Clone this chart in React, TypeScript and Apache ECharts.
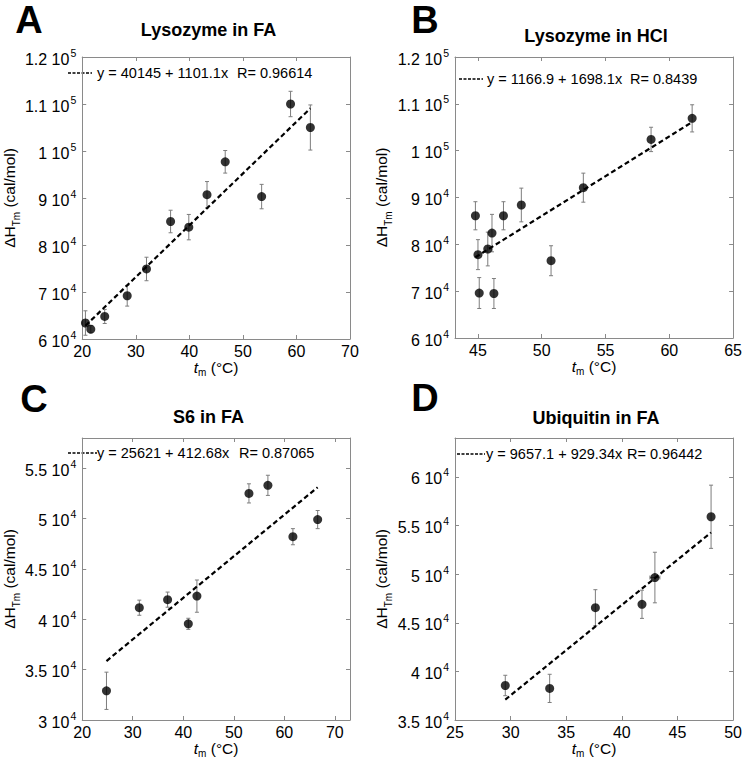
import React, { useEffect, useRef } from "react";
import * as echarts from "echarts";

// ---------- data ----------
// Panel A: Lysozyme in FA
const tmA = [20.6, 21.6, 24.2, 28.4, 32.0, 36.5, 39.9, 43.3, 46.7, 53.5, 58.9, 62.6];
const dhA = [63400, 62100, 64800, 69200, 74900, 85000, 83800, 90700, 97700, 90300, 110000, 105000];
const errA = [2600, 800, 1500, 2200, 2500, 2400, 2700, 2800, 2400, 2600, 2700, 4800];
const fitA = { a: "40145", b: "1101.1", r: "0.96614" };

// Panel B: Lysozyme in HCl
const tmB = [44.8, 45.0, 45.1, 45.77, 46.1, 46.25, 47.0, 48.4, 50.73, 53.26, 58.57, 61.79];
const dhB = [86100, 77800, 69600, 79000, 82400, 69500, 86100, 88400, 76500, 92100, 102400, 106900];
const errB = [3000, 3200, 3300, 3600, 4000, 3200, 3000, 3600, 3200, 3100, 2600, 2900];
const fitB = { a: "1166.9", b: "1698.1", r: "0.8439" };

// Panel C: S6 in FA
const tmC = [24.8, 31.3, 36.9, 41.0, 42.7, 53.0, 56.75, 61.7, 66.6];
const dhC = [32900, 41150, 41950, 39550, 42300, 52500, 53300, 48200, 49900];
const errC = [1850, 750, 750, 550, 1600, 950, 1000, 800, 900];
const fitC = { a: "25621", b: "412.68", r: "0.87065" };

// Panel D: Ubiquitin in FA
const tmD = [29.52, 33.51, 37.62, 41.81, 42.97, 48.02];
const dhD = [38550, 38250, 46550, 46900, 49650, 55900];
const errD = [1050, 1450, 1850, 1450, 2600, 3250];
const xErrD = [0, 0, 0, 0, 0.45, 0];
const fitD = { a: "9657.1", b: "929.34", r: "0.96442" };

// ticks
const xTicksA = [20, 30, 40, 50, 60, 70];
const yTicksA = [60000, 70000, 80000, 90000, 100000, 110000, 120000];
const xTicksB = [45, 50, 55, 60, 65];
const yTicksB = [60000, 70000, 80000, 90000, 100000, 110000, 120000];
const xTicksC = [20, 30, 40, 50, 60, 70];
const yTicksC = [30000, 35000, 40000, 45000, 50000, 55000];
const xTicksD = [25, 30, 35, 40, 45, 50];
const yTicksD = [35000, 40000, 45000, 50000, 55000, 60000];

const titles = ["Lysozyme in FA", "Lysozyme in HCl", "S6 in FA", "Ubiquitin in FA"];
const letters = ["A", "B", "C", "D"];

// ---------- layout ----------
const FONT = '"Liberation Sans", Arial, Helvetica, sans-serif';
const FRAME = "#8a8a8a";

const panels = [
  { tm: tmA, dh: dhA, err: errA, xerr: null as number[] | null, fit: fitA, xTicks: xTicksA, yTicks: yTicksA,
    xMin: 20, xMax: 70, yMin: 60000, yMax: 120000,
    grid: { left: 67, top: 57, width: 283, height: 282 }, yGap: 51, xGap: 20,
    eqY: 73, dash: [68, 92], eqX: 97, rX: 237, letter: [29, 1], titleY: 30 },
  { tm: tmB, dh: dhB, err: errB, xerr: null, fit: fitB, xTicks: xTicksB, yTicks: yTicksB,
    xMin: 43.2, xMax: 65, yMin: 60000, yMax: 120000,
    grid: { left: 455, top: 57, width: 282, height: 281 }, yGap: 40, xGap: 20,
    eqY: 79, dash: [459, 483], eqX: 487, rX: 630, letter: [425, 1], titleY: 36 },
  { tm: tmC, dh: dhC, err: errC, xerr: null, fit: fitC, xTicks: xTicksC, yTicks: yTicksC,
    xMin: 20, xMax: 73, yMin: 30000, yMax: 58000,
    grid: { left: 67, top: 438, width: 283, height: 282 }, yGap: 53, xGap: 18,
    eqY: 453, dash: [68, 97], eqX: 97, rX: 239, letter: [34, 380], titleY: 417 },
  { tm: tmD, dh: dhD, err: errD, xerr: xErrD, fit: fitD, xTicks: xTicksD, yTicks: yTicksD,
    xMin: 25, xMax: 50, yMin: 35000, yMax: 64000,
    grid: { left: 455, top: 438, width: 282, height: 282 }, yGap: 40, xGap: 18,
    eqY: 454, dash: [457, 485], eqX: 486, rX: 627, letter: [425, 379], titleY: 418 },
];

function sciLabel(v: number): string {
  const e = Math.floor(Math.log10(v) + 1e-9);
  const m = +(v / Math.pow(10, e)).toFixed(2);
  return `{m|${m} 10}{e|${e}}`;
}

const sciRich = {
  m: { fontSize: 16, fontFamily: FONT, color: "#000", lineHeight: 20, verticalAlign: "bottom" },
  e: { fontSize: 10.5, fontFamily: FONT, color: "#000", lineHeight: 20, verticalAlign: "top", padding: [0, 0, 0, 1] },
};

function buildOption() {
  const grids: any[] = [];
  const xAxes: any[] = [];
  const yAxes: any[] = [];
  const series: any[] = [];
  const graphics: any[] = [];
  const n = panels.length;

  panels.forEach((p, i) => {
    grids.push({ ...p.grid, containLabel: false });
    const axisLine = { show: true, onZero: false, lineStyle: { color: FRAME, width: 1 } };
    const tick = (vals: number[]) => ({ show: true, inside: true, length: 4, customValues: vals, lineStyle: { color: FRAME, width: 1 } });
    xAxes[i] = {
      type: "value", gridIndex: i, position: "bottom", min: p.xMin, max: p.xMax,
      axisLine, axisTick: tick(p.xTicks), splitLine: { show: false },
      axisLabel: { show: true, customValues: p.xTicks, margin: 4, fontSize: 16, fontFamily: FONT, color: "#000" },
      name: "{i|t}{s|m}{a| (°C)}", nameLocation: "middle", nameGap: p.xGap,
      nameTextStyle: {
        rich: {
          i: { fontSize: 15.5, fontStyle: "italic", fontFamily: FONT, color: "#000", lineHeight: 18, verticalAlign: "top" },
          s: { fontSize: 10, fontFamily: FONT, color: "#000", lineHeight: 18, verticalAlign: "bottom" },
          a: { fontSize: 15.5, fontFamily: FONT, color: "#000", lineHeight: 18, verticalAlign: "top" },
        },
      },
    };
    xAxes[i + n] = {
      type: "value", gridIndex: i, position: "top", min: p.xMin, max: p.xMax,
      axisLine, axisTick: tick(p.xTicks), splitLine: { show: false }, axisLabel: { show: false },
    };
    yAxes[i] = {
      type: "value", gridIndex: i, position: "left", min: p.yMin, max: p.yMax,
      axisLine, axisTick: tick(p.yTicks), splitLine: { show: false },
      axisLabel: { show: true, customValues: p.yTicks, margin: 6, formatter: (v: number) => sciLabel(v), rich: sciRich },
      name: "{a|ΔH}{s|Tm}{a| (cal/mol)}", nameLocation: "middle", nameRotate: 90, nameGap: p.yGap,
      nameTextStyle: {
        rich: {
          a: { fontSize: 15.5, fontFamily: FONT, color: "#000", lineHeight: 20, verticalAlign: "top" },
          s: { fontSize: 10, fontFamily: FONT, color: "#000", lineHeight: 20, verticalAlign: "bottom" },
        },
      },
    };
    yAxes[i + n] = {
      type: "value", gridIndex: i, position: "right", min: p.yMin, max: p.yMax,
      axisLine, axisTick: tick(p.yTicks), splitLine: { show: false }, axisLabel: { show: false },
    };

    // error bars
    const errData = p.tm.map((t, k) => [t, p.dh[k], p.err[k], p.xerr ? p.xerr[k] : 0]);
    series.push({
      type: "custom", xAxisIndex: i, yAxisIndex: i, z: 2,
      dimensions: ["x", "y", "e", "xe"], encode: { x: 0, y: 1 },
      data: errData,
      renderItem: (params: any, api: any) => {
        const x = api.value(0), y = api.value(1), e = api.value(2), xe = api.value(3);
        const top = api.coord([x, y + e]);
        const bot = api.coord([x, y - e]);
        const st = { stroke: "#7d7d7d", lineWidth: 1 };
        const c = 2;
        const children: any[] = [
          { type: "line", shape: { x1: top[0], y1: top[1], x2: bot[0], y2: bot[1] }, style: st },
          { type: "line", shape: { x1: top[0] - c, y1: top[1], x2: top[0] + c, y2: top[1] }, style: st },
          { type: "line", shape: { x1: bot[0] - c, y1: bot[1], x2: bot[0] + c, y2: bot[1] }, style: st },
        ];
        if (xe > 0) {
          const l = api.coord([x - xe, y]);
          const r = api.coord([x + xe, y]);
          children.push(
            { type: "line", shape: { x1: l[0], y1: l[1], x2: r[0], y2: r[1] }, style: st },
            { type: "line", shape: { x1: l[0], y1: l[1] - c, x2: l[0], y2: l[1] + c }, style: st },
            { type: "line", shape: { x1: r[0], y1: r[1] - c, x2: r[0], y2: r[1] + c }, style: st },
          );
        }
        return { type: "group", children };
      },
    });

    // fit line
    const a = parseFloat(p.fit.a), b = parseFloat(p.fit.b);
    const x0 = Math.min(...p.tm), x1 = Math.max(...p.tm);
    series.push({
      type: "line", xAxisIndex: i, yAxisIndex: i, z: 3, symbol: "none", silent: true,
      data: [[x0, a + b * x0], [x1, a + b * x1]],
      lineStyle: { color: "#000", width: 2.2, type: [5, 3] },
    });

    // points
    series.push({
      type: "scatter", xAxisIndex: i, yAxisIndex: i, z: 4, symbol: "circle", symbolSize: 9,
      itemStyle: { color: "#000" },
      data: p.tm.map((t, k) => [t, p.dh[k]]),
    });

    // graphics: letter, title, equation
    graphics.push({
      type: "text", x: p.letter[0], y: p.letter[1],
      style: { text: letters[i], font: `bold 38px ${FONT}`, fill: "#000", align: "center", verticalAlign: "top" },
    });
    graphics.push({
      type: "text", x: p.grid.left + p.grid.width / 2, y: p.titleY,
      style: { text: titles[i], font: `bold 18px ${FONT}`, fill: "#000", align: "center", verticalAlign: "middle" },
    });
    graphics.push({
      type: "line", shape: { x1: p.dash[0], y1: p.eqY, x2: p.dash[1], y2: p.eqY },
      style: { stroke: "#000", lineWidth: 1.5, lineDash: [3, 1.5] },
    });
    graphics.push({
      type: "text", x: p.eqX, y: p.eqY,
      style: { text: `y = ${p.fit.a} + ${p.fit.b}x`, font: `14.5px ${FONT}`, fill: "#000", align: "left", verticalAlign: "middle" },
    });
    graphics.push({
      type: "text", x: p.rX, y: p.eqY,
      style: { text: `R= ${p.fit.r}`, font: `14.5px ${FONT}`, fill: "#000", align: "left", verticalAlign: "middle" },
    });
  });

  return {
    animation: false,
    backgroundColor: "#fff",
    textStyle: { fontFamily: FONT },
    grid: grids,
    xAxis: xAxes,
    yAxis: yAxes,
    series,
    graphic: graphics,
  };
}

export default function App() {
  const ref = useRef<HTMLDivElement>(null);
  useEffect(() => {
    if (!ref.current) return;
    const chart = echarts.init(ref.current, undefined, { renderer: "svg" });
    chart.setOption(buildOption() as any);
    return () => chart.dispose();
  }, []);
  return (
    <div
      ref={ref}
      style={{ position: "absolute", left: 0, top: 0, width: 745, height: 764, background: "#fff" }}
    />
  );
}
